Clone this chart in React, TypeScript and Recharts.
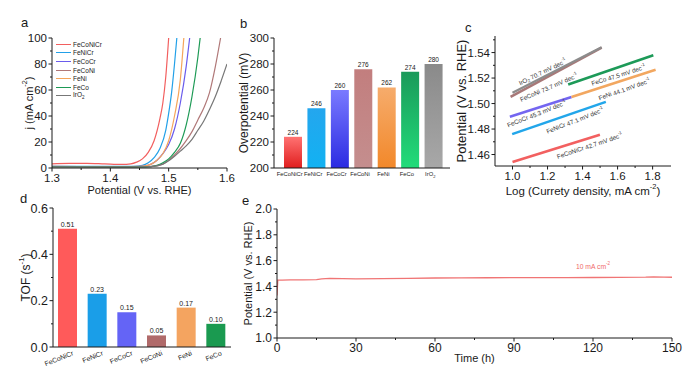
import React from 'react';
import { LineChart, Line, BarChart, Bar, XAxis, YAxis, Legend, Cell, LabelList, ReferenceDot } from 'recharts';

const FONT = 'Arial, "Liberation Sans", Helvetica, sans-serif';
const INK = '#1a1a1a';
const AXIS = { stroke: INK, strokeWidth: 1 };
const TS = 3.5; // major tick length
const TM = 1.5; // gap between tick and label

// ---------- a: LSV curves, [potential (V), j (mA cm-2)]
const lsvNames = ['FeCoNiCr', 'FeNiCr', 'FeCoCr', 'FeCoNi', 'FeNi', 'FeCo', 'IrO2'];
const lsvColors = ['#f25f5f', '#22a0e8', '#6a5cec', '#b07878', '#f5a55a', '#1d9a55', '#777777'];
const lsvFeCoNiCr = [[1.3, 3.2], [1.33, 3.5], [1.36, 3.6], [1.39, 3.2], [1.42, 2.8], [1.435, 3.2], [1.445, 4.5], [1.455, 7], [1.465, 12], [1.475, 21], [1.485, 38], [1.49, 50], [1.495, 70], [1.5, 100]];
const lsvFeNiCr = [[1.3, 1.3], [1.4, 1.2], [1.44, 1.3], [1.455, 2], [1.465, 4], [1.475, 8], [1.485, 15], [1.495, 29], [1.5, 42], [1.505, 58], [1.51, 80], [1.514, 100]];
const lsvFeCoCr = [[1.3, 1.2], [1.4, 1.1], [1.45, 1.2], [1.46, 1.6], [1.47, 3], [1.48, 6], [1.49, 11], [1.5, 18], [1.51, 30], [1.52, 50], [1.53, 78], [1.536, 100]];
const lsvFeCoNi = [[1.3, 1.0], [1.45, 0.9], [1.47, 1.2], [1.49, 3], [1.5, 6], [1.51, 10], [1.52, 15], [1.53, 21], [1.54, 28], [1.55, 37], [1.56, 46], [1.57, 58], [1.58, 78], [1.589, 100]];
const lsvFeNi = [[1.3, 1.2], [1.4, 1.1], [1.45, 1.2], [1.46, 1.6], [1.47, 3], [1.48, 6], [1.49, 11], [1.5, 21], [1.51, 40], [1.52, 68], [1.526, 100]];
const lsvFeCo = [[1.3, 1.0], [1.45, 0.9], [1.47, 1.1], [1.48, 2], [1.49, 4], [1.5, 7], [1.51, 12], [1.52, 19], [1.53, 33], [1.54, 55], [1.55, 85], [1.554, 100]];
const lsvIrO2 = [[1.3, 0.8], [1.45, 0.8], [1.47, 1.1], [1.49, 3], [1.5, 5.5], [1.51, 9], [1.52, 13], [1.53, 17], [1.54, 22], [1.55, 29], [1.56, 36], [1.57, 45], [1.58, 55], [1.59, 67], [1.6, 80]];
const lsvSeries = [lsvFeCoNiCr, lsvFeNiCr, lsvFeCoCr, lsvFeCoNi, lsvFeNi, lsvFeCo, lsvIrO2];
const aXTicks = [1.3, 1.35, 1.4, 1.45, 1.5, 1.55, 1.6];
const aXMajor = [1.3, 1.4, 1.5, 1.6];
const aYTicks = [0, 10, 20, 30, 40, 50, 60, 70, 80, 90, 100];
const aYMajor = [0, 20, 40, 60, 80, 100];

// ---------- b: overpotential at 10 mA cm-2
const bNames = ['FeCoNiCr', 'FeNiCr', 'FeCoCr', 'FeCoNi', 'FeNi', 'FeCo', 'IrO2'];
const bOverpotential = [224, 246, 260, 276, 262, 274, 280];
const bTopColors = ['#ff7272', '#24a6ee', '#7a7aff', '#c27e7e', '#f6ac6c', '#1a9a5a', '#8a8a8a'];
const bBottomColors = ['#e01e1e', '#12b2f2', '#2b2be2', '#c48e8e', '#f2882a', '#22dc7a', '#a8a8a8'];
const bYTicks = [200, 210, 220, 230, 240, 250, 260, 270, 280, 290, 300];
const bYMajor = [200, 220, 240, 260, 280, 300];

// ---------- c: Tafel segments, [log j, potential (V)]
const cNames = ['FeCoNiCr', 'FeNiCr', 'FeCoCr', 'FeCoNi', 'FeNi', 'FeCo', 'IrO2'];
const cSlopes = ['42.7', '47.1', '45.3', '73.7', '44.1', '47.5', '70.7'];
const cColors = ['#f26060', '#22a6ea', '#7466f0', '#a87878', '#f2a760', '#1d9a58', '#8c8c8c'];
const tafelFeCoNiCr = [[1.0, 1.4541], [1.499, 1.4755]];
const tafelFeNiCr = [[0.998, 1.476], [1.533, 1.5013]];
const tafelFeCoCr = [[0.985, 1.4897], [1.337, 1.5052]];
const tafelFeCoNi = [[0.989, 1.5052], [1.509, 1.5439]];
const tafelFeNi = [[1.337, 1.5052], [1.817, 1.5266]];
const tafelFeCo = [[1.318, 1.515], [1.804, 1.5379]];
const tafelIrO2 = [[1.0, 1.5085], [1.509, 1.5442]];
const tafelSeries = [tafelFeCoNiCr, tafelFeNiCr, tafelFeCoCr, tafelFeCoNi, tafelFeNi, tafelFeCo, tafelIrO2];
const cXTicks = [1.0, 1.1, 1.2, 1.3, 1.4, 1.5, 1.6, 1.7, 1.8];
const cXMajor = [1.0, 1.2, 1.4, 1.6, 1.8];
const cYTicks = [1.46, 1.47, 1.48, 1.49, 1.5, 1.51, 1.52, 1.53, 1.54, 1.55];
const cYMajor = [1.46, 1.48, 1.5, 1.52, 1.54];
// where each slope annotation sits (data coords) and its tilt
const cNotes = [
  { x: 1.44, y: 1.4672, a: -19 },
  { x: 1.356, y: 1.487, a: -22 },
  { x: 1.137, y: 1.4923, a: -22 },
  { x: 1.206, y: 1.513, a: -24 },
  { x: 1.638, y: 1.5116, a: -20 },
  { x: 1.604, y: 1.5227, a: -18 },
  { x: 1.17, y: 1.5253, a: -26 },
];

// ---------- d: TOF
const dNames = ['FeCoNiCr', 'FeNiCr', 'FeCoCr', 'FeCoNi', 'FeNi', 'FeCo'];
const dTof = [0.51, 0.23, 0.15, 0.05, 0.17, 0.1];
const dColors = ['#ff5a5a', '#1a9ee8', '#6464f6', '#b06a6a', '#f4a460', '#1a9a50'];
const dYTicks = [0, 0.1, 0.2, 0.3, 0.4, 0.5, 0.6];
const dYMajor = [0, 0.2, 0.4, 0.6];

// ---------- e: chronopotentiometry at 10 mA cm-2
const eTime = [0, 0.3, 2, 5, 10, 15, 17, 20, 25, 30, 40, 50, 60, 70, 80, 90, 100, 110, 120, 130, 140, 143, 147, 150];
const ePotential = [1.33, 1.448, 1.449, 1.45, 1.451, 1.452, 1.458, 1.462, 1.46, 1.458, 1.461, 1.462, 1.465, 1.466, 1.467, 1.468, 1.468, 1.468, 1.469, 1.47, 1.472, 1.474, 1.472, 1.471];
const eXTicks = [0, 15, 30, 45, 60, 75, 90, 105, 120, 135, 150];
const eXMajor = [0, 30, 60, 90, 120, 150];
const eYTicks = [1.0, 1.1, 1.2, 1.3, 1.4, 1.5, 1.6, 1.7, 1.8, 1.9, 2.0];
const eYMajor = [1.0, 1.2, 1.4, 1.6, 1.8, 2.0];

const isMajor = (v: number, major: number[]) => major.some((m) => Math.abs(m - v) < 1e-6);

// draws its own tick mark (long for major, short for minor) at the known axis line position
const makeTick = (major: number[], fmt: (v: number) => string, fs: number, side: 'left' | 'bottom', axisPos: number) => (p: any) => {
  const v = p.payload.value;
  const big = isMajor(v, major);
  const len = big ? TS : 2;
  if (side === 'left') {
    return (
      <g>
        <line x1={axisPos - len} x2={axisPos} y1={p.y} y2={p.y} stroke={INK} />
        {big && <text x={axisPos - TS - TM} y={p.y} dy="0.36em" textAnchor="end" fontSize={fs} fill={INK}>{fmt(v)}</text>}
      </g>
    );
  }
  return (
    <g>
      <line x1={p.x} x2={p.x} y1={axisPos} y2={axisPos + len} stroke={INK} />
      {big && <text x={p.x} y={axisPos + TS + TM} dy="0.75em" textAnchor="middle" fontSize={fs} fill={INK}>{fmt(v)}</text>}
    </g>
  );
};

const sup = (s: string, fs: number) => [
  <tspan key="s" dy={-fs * 0.38} fontSize={fs * 0.65}>{s}</tspan>,
  <tspan key="r" dy={fs * 0.38}>)</tspan>,
];

const chem = (name: string, fs: number) =>
  name === 'IrO2' ? [<tspan key="a">IrO</tspan>, <tspan key="b" dy={fs * 0.3} fontSize={fs * 0.7}>2</tspan>] : name;

const yTitle = (parts: React.ReactNode, cx: number, fs: number) => (p: any) => {
  const vb = p.viewBox || {};
  const x = (vb.x ?? 0) + cx;
  const y = (vb.y ?? 0) + (vb.height ?? 0) / 2;
  return (
    <text x={x} y={y} transform={`rotate(-90 ${x} ${y})`} textAnchor="middle" dominantBaseline="central" fontSize={fs} fill={INK}>
      {parts}
    </text>
  );
};

const xTitle = (parts: React.ReactNode, dy: number, fs: number) => (p: any) => {
  const vb = p.viewBox || {};
  const x = (vb.x ?? 0) + (vb.width ?? 0) / 2;
  const y = (vb.y ?? 0) + dy;
  return (
    <text x={x} y={y} textAnchor="middle" dominantBaseline="central" fontSize={fs} fill={INK}>
      {parts}
    </text>
  );
};

function PanelA() {
  return (
    <LineChart width={235} height={198} margin={{ top: 38, right: 8, left: 0, bottom: 0 }}>
      <XAxis type="number" dataKey="x" domain={[1.3, 1.6]} ticks={aXTicks} interval={0} height={30}
        tickLine={false} axisLine={AXIS} allowDataOverflow
        tick={makeTick(aXMajor, (v) => v.toFixed(1), 11.5, 'bottom', 168)}
        label={xTitle('Potential (V vs. RHE)', 21.5, 11)} />
      <YAxis type="number" domain={[0, 100]} ticks={aYTicks} interval={0} width={52}
        tickLine={false} axisLine={AXIS} allowDataOverflow
        tick={makeTick(aYMajor, (v) => String(v), 11.5, 'left', 52)}
        label={yTitle(['j (mA cm', ...sup('-2', 11)], 29, 11)} />
      <XAxis xAxisId="t" orientation="top" type="number" domain={[1.3, 1.6]} height={0} tick={false} tickLine={false} axisLine={AXIS} />
      <YAxis yAxisId="r" orientation="right" type="number" domain={[0, 100]} width={0} tick={false} tickLine={false} axisLine={AXIS} />
      {lsvSeries.map((s, i) => (
        <Line key={lsvNames[i]} name={lsvNames[i]} data={s.map(([x, y]) => ({ x, y }))} dataKey="y" type="monotone"
          stroke={lsvColors[i]} strokeWidth={1.2} dot={false} isAnimationActive={false} />
      ))}
      <Legend layout="vertical" align="center" verticalAlign="middle"
        wrapperStyle={{ left: 56, top: 40, width: 60, height: 62 }}
        content={() => (
          <div style={{ fontSize: 6.5, color: INK }}>
            {lsvNames.map((n, i) => (
              <div key={n} style={{ display: 'flex', alignItems: 'center', height: 8.6 }}>
                <span style={{ display: 'inline-block', width: 15, borderTop: `1.3px solid ${lsvColors[i]}`, marginRight: 2 }} />
                {n === 'IrO2' ? <span>IrO<sub style={{ fontSize: 4.5 }}>2</sub></span> : n}
              </div>
            ))}
          </div>
        )} />
    </LineChart>
  );
}

function PanelB() {
  const data = bNames.map((name, i) => ({ name, eta: bOverpotential[i] }));
  return (
    <BarChart width={235} height={195} data={data} margin={{ top: 38, right: 15, left: 0, bottom: 0 }}>
      <defs>
        {bNames.map((n, i) => (
          <linearGradient key={n} id={`gb${i}`} x1="0" y1="0" x2="0" y2="1">
            <stop offset="0%" stopColor={bTopColors[i]} />
            <stop offset="100%" stopColor={bBottomColors[i]} />
          </linearGradient>
        ))}
      </defs>
      <XAxis dataKey="name" height={27} padding={{ left: 7, right: 5 }} interval={0}
        tickLine={false} axisLine={AXIS}
        tick={(p: any) => (
          <text x={p.x - 3} y={172} dy="0.75em" textAnchor="middle" fontSize={5.8} fill={INK}>{chem(p.payload.value, 5.8)}</text>
        )} />
      <YAxis type="number" domain={[200, 300]} ticks={bYTicks} interval={0} width={44}
        tickLine={false} axisLine={AXIS} allowDataOverflow
        tick={makeTick(bYMajor, (v) => String(v), 11.5, 'left', 44)}
        label={yTitle('Overpotential (mV)', 14, 12)} />
      <XAxis xAxisId="t" orientation="top" dataKey="name" height={0} tick={false} tickLine={false} axisLine={AXIS} />
      <YAxis yAxisId="r" orientation="right" type="number" domain={[200, 300]} width={0} tick={false} tickLine={false} axisLine={AXIS} />
      <Bar dataKey="eta" barSize={18} isAnimationActive={false}>
        {data.map((d, i) => <Cell key={d.name} fill={`url(#gb${i})`} />)}
        <LabelList dataKey="eta" position="top" offset={2} fontSize={6.5} fill={INK} />
      </Bar>
    </BarChart>
  );
}

function PanelC() {
  return (
    <LineChart width={248} height={198} margin={{ top: 36, right: 29, left: 0, bottom: 0 }}>
      <XAxis type="number" dataKey="x" domain={[0.9, 1.905]} ticks={cXTicks} interval={0} height={32}
        tickLine={false} axisLine={AXIS} allowDataOverflow
        tick={makeTick(cXMajor, (v) => v.toFixed(1), 11.5, 'bottom', 166)}
        label={xTitle(['Log (Currety density, mA cm', ...sup('-2', 11.5)], 24.5, 11.5)} />
      <YAxis type="number" domain={[1.451, 1.553]} ticks={cYTicks} interval={0} width={43}
        tickLine={false} axisLine={AXIS} allowDataOverflow
        tick={makeTick(cYMajor, (v) => v.toFixed(2), 11.5, 'left', 43)}
        label={yTitle('Potential (V vs. RHE)', 9, 13)} />
      <XAxis xAxisId="t" orientation="top" type="number" domain={[0.9, 1.905]} height={0} tick={false} tickLine={false} axisLine={AXIS} />
      <YAxis yAxisId="r" orientation="right" type="number" domain={[1.451, 1.553]} width={0} tick={false} tickLine={false} axisLine={AXIS} />
      {tafelSeries.map((s, i) => (
        <Line key={cNames[i]} data={s.map(([x, y]) => ({ x, y }))} dataKey="y" type="linear"
          stroke={cColors[i]} strokeWidth={i === 6 ? 2.4 : 2.6} dot={false} isAnimationActive={false} />
      ))}
      {cNotes.map((n, i) => (
        <ReferenceDot key={`n${i}`} x={n.x} y={n.y} r={0} fill="none" stroke="none"
          label={(p: any) => {
            const vb = p.viewBox || {};
            const x = (vb.x ?? 0) + (vb.width ?? 0) / 2;
            const y = (vb.y ?? 0) + (vb.height ?? 0) / 2;
            return (
              <text x={x} y={y} transform={`rotate(${n.a} ${x} ${y})`} textAnchor="middle" dominantBaseline="central" fontSize={6.3} fill="#333">
                {chem(cNames[i], 6.3)}
                <tspan dy={cNames[i] === 'IrO2' ? -6.3 * 0.3 : 0}>{` ${cSlopes[i]} mV dec`}</tspan>
                <tspan dy={-2.4} fontSize={4.3}>-1</tspan>
              </text>
            );
          }} />
      ))}
    </LineChart>
  );
}

function PanelD() {
  const data = dNames.map((name, i) => ({ name, tof: dTof[i] }));
  return (
    <BarChart width={240} height={183} data={data} margin={{ top: 13, right: 9, left: 0, bottom: 0 }}>
      <XAxis dataKey="name" height={31} interval={0} tickLine={false} axisLine={AXIS}
        tick={(p: any) => (
          <text x={p.x + 6} y={160} textAnchor="end" fontSize={6.8} fill={INK}
            transform={`rotate(-22 ${p.x + 6} 160)`}>{p.payload.value}</text>
        )} />
      <YAxis type="number" domain={[0, 0.6]} ticks={dYTicks} interval={0} width={53}
        tickLine={false} axisLine={AXIS} allowDataOverflow
        tick={makeTick(dYMajor, (v) => v.toFixed(1), 12.5, 'left', 53)}
        label={yTitle(['TOF (s', ...sup('-1', 12)], 26, 12)} />
      <XAxis xAxisId="t" orientation="top" dataKey="name" height={0} tick={false} tickLine={false} axisLine={AXIS} />
      <YAxis yAxisId="r" orientation="right" type="number" domain={[0, 0.6]} width={0} tick={false} tickLine={false} axisLine={AXIS} />
      <Bar dataKey="tof" barSize={19} isAnimationActive={false}>
        {data.map((d, i) => <Cell key={d.name} fill={dColors[i]} />)}
        <LabelList dataKey="tof" position="top" offset={2} fontSize={7} fill={INK} formatter={(v: any) => Number(v).toFixed(2)} />
      </Bar>
    </BarChart>
  );
}

function PanelE() {
  const data = eTime.map((t, i) => ({ t, v: ePotential[i] }));
  return (
    <LineChart width={460} height={183} data={data} margin={{ top: 14, right: 28, left: 0, bottom: 0 }}>
      <XAxis type="number" dataKey="t" domain={[0, 150]} ticks={eXTicks} interval={0} height={40}
        tickLine={false} axisLine={AXIS} allowDataOverflow
        tick={makeTick(eXMajor, (v) => String(v), 12, 'bottom', 143)}
        label={xTitle('Time (h)', 20, 11)} />
      <YAxis type="number" domain={[1.0, 2.0]} ticks={eYTicks} interval={0} width={37}
        tickLine={false} axisLine={AXIS} allowDataOverflow
        tick={makeTick(eYMajor, (v) => v.toFixed(1), 12, 'left', 37)}
        label={yTitle('Potential (V vs. RHE)', 8, 11)} />
      <XAxis xAxisId="t" orientation="top" type="number" domain={[0, 150]} height={0} tick={false} tickLine={false} axisLine={AXIS} />
      <YAxis yAxisId="r" orientation="right" type="number" domain={[1.0, 2.0]} width={0} tick={false} tickLine={false} axisLine={AXIS} />
      <Line dataKey="v" type="linear" stroke="#f07575" strokeWidth={1.3} dot={false} isAnimationActive={false} />
      <ReferenceDot x={120} y={1.558} r={0} fill="none" stroke="none"
        label={(p: any) => {
          const vb = p.viewBox || {};
          const x = (vb.x ?? 0) + (vb.width ?? 0) / 2;
          const y = (vb.y ?? 0) + (vb.height ?? 0) / 2;
          return (
            <text x={x} y={y} textAnchor="middle" dominantBaseline="central" fontSize={6.8} fill="#f06a6a">
              10 mA cm<tspan dy={-2.6} fontSize={4.5}>-2</tspan>
            </text>
          );
        }} />
    </LineChart>
  );
}

const letters = [
  { t: 'a', x: 21, y: 27 },
  { t: 'b', x: 240, y: 28 },
  { t: 'c', x: 465, y: 32 },
  { t: 'd', x: 20, y: 203 },
  { t: 'e', x: 242, y: 205 },
];

export default function App() {
  return (
    <div style={{ position: 'fixed', left: 0, top: 0, width: 700, height: 378, background: '#fff', fontFamily: FONT, overflow: 'hidden' }}>
      <div style={{ position: 'absolute', left: 0, top: 0 }}><PanelA /></div>
      <div style={{ position: 'absolute', left: 230, top: 0 }}><PanelB /></div>
      <div style={{ position: 'absolute', left: 452, top: 0 }}><PanelC /></div>
      <div style={{ position: 'absolute', left: 0, top: 195 }}><PanelD /></div>
      <div style={{ position: 'absolute', left: 240, top: 195 }}><PanelE /></div>
      <svg width={700} height={378} style={{ position: 'absolute', left: 0, top: 0, pointerEvents: 'none' }}>
        {letters.map((l) => (
          <text key={l.t} x={l.x} y={l.y} fontSize={13} fill={INK} fontFamily={FONT}>{l.t}</text>
        ))}
      </svg>
    </div>
  );
}
